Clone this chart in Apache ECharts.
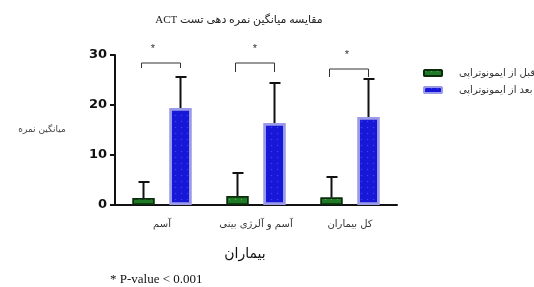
<!DOCTYPE html>
<html>
<head>
<meta charset="utf-8">
<script src="https://cdn.jsdelivr.net/npm/echarts@6/dist/echarts.min.js"></script>
<style>
  html, body { margin: 0; padding: 0; background: #fff; }
  #main { width: 534px; height: 287px; }
</style>
</head>
<body>
<div id="main"></div>
<script>
// گروه‌ها و داده‌ها
const categories = ['آسم', 'آسم و آلرژی بینی', 'کل بیماران'];
const seriesNames = ['قبل از ایمونوتراپی', 'بعد از ایمونوتراپی'];
const beforeMean = [1.4, 1.8, 1.5];
const beforeUpper = [4.6, 6.4, 5.6];
const afterMean = [19.4, 16.4, 17.6];
const afterUpper = [25.6, 24.4, 25.2];
// ارتفاع کروشه‌های معنی‌داری
const bracketTop = [28.4, 28.4, 27.2];
const bracketLeg = [27.4, 26.6, 25.6];
const yTicks = [0, 10, 20, 30];

const barW = 22, gapPx = 15;
const off = (barW + gapPx) / 2;
const starDx = [-9, -1, -3];

function errData(mean, upper) {
  return mean.map((m, i) => [i, m, upper[i]]);
}

function errRender(dx) {
  return function (params, api) {
    const b = api.coord([api.value(0), api.value(1)]);
    const t = api.coord([api.value(0), api.value(2)]);
    const x = b[0] + dx;
    const st = { stroke: '#111', lineWidth: 2 };
    return {
      type: 'group',
      children: [
        { type: 'line', shape: { x1: x, y1: b[1], x2: x, y2: t[1] }, style: st },
        { type: 'line', shape: { x1: x - 5, y1: t[1], x2: x + 6, y2: t[1] }, style: st }
      ]
    };
  };
}

const chart = echarts.init(document.getElementById('main'));
chart.setOption({
  animation: false,
  textStyle: { fontFamily: 'DejaVu Sans' },
  title: {
    text: '\u202Bمقایسه میانگین نمره دهی تست ACT\u202C',
    left: 234, top: 10, textAlign: 'center',
    textStyle: { fontSize: 11, fontWeight: 'normal', color: '#222', fontFamily: 'Liberation Serif, DejaVu Sans' }
  },
  legend: {
    orient: 'vertical', left: 418, top: 63,
    itemWidth: 18, itemHeight: 6, itemGap: 7,
    textStyle: { fontSize: 10, color: '#333', padding: [0, 0, 0, 12] },
    data: seriesNames
  },
  grid: { left: 115, right: 137, top: 55, bottom: 82, outerBoundsMode: 'none' },
  xAxis: {
    type: 'category', data: categories,
    name: 'بیماران', nameLocation: 'middle', nameGap: 42,
    nameTextStyle: { fontSize: 14, color: '#111', fontFamily: 'Liberation Serif, DejaVu Sans', padding: [0, 22, 0, 0] },
    axisLine: { lineStyle: { color: '#111', width: 2 } },
    axisTick: { alignWithLabel: true, length: 3, lineStyle: { width: 2, color: '#111' } },
    axisLabel: { fontSize: 10, color: '#333', margin: 14, interval: 0 }
  },
  yAxis: {
    type: 'value', min: 0, max: 30, interval: 10,
    name: 'میانگین نمره', nameLocation: 'middle', nameRotate: 0, nameGap: 73,
    nameTextStyle: { fontSize: 9, color: '#444', align: 'center', padding: [6, 0, 0, 0] },
    axisLine: { show: true, lineStyle: { color: '#111', width: 2 } },
    axisTick: { show: true, length: 5, lineStyle: { width: 2, color: '#111' } },
    axisLabel: { fontSize: 13, fontWeight: 'bold', color: '#111', margin: 8,
      formatter: v => yTicks.includes(v) ? String(v) : '' },
    splitLine: { show: false }
  },
  series: [
    {
      name: seriesNames[0], type: 'bar', data: beforeMean,
      barWidth: barW, barGap: (gapPx / barW * 100) + '%',
      itemStyle: { color: '#1e7a24', borderColor: '#0b2d0d', borderWidth: 1.5,
        decal: { symbol: 'circle', symbolSize: 0.5, dashArrayX: 3, dashArrayY: 3, color: 'rgba(120,200,120,0.55)' } },
      z: 2
    },
    {
      name: seriesNames[1], type: 'bar', data: afterMean,
      barWidth: barW,
      itemStyle: { color: '#1717d8', borderColor: '#9a9ae8', borderWidth: 2.5,
        decal: { symbol: 'circle', symbolSize: 0.5, dashArrayX: 3, dashArrayY: 3, color: 'rgba(90,90,255,0.6)' } },
      z: 2
    },
    {
      type: 'custom', data: errData(beforeMean, beforeUpper),
      renderItem: errRender(-off), z: 3, silent: true
    },
    {
      type: 'custom', data: errData(afterMean, afterUpper),
      renderItem: errRender(off), z: 3, silent: true
    },
    {
      type: 'custom', silent: true, z: 3,
      data: bracketTop.map((t, i) => [i, t, bracketLeg[i]]),
      renderItem: function (params, api) {
        const t = api.coord([api.value(0), api.value(1)]);
        const l = api.coord([api.value(0), api.value(2)]);
        const x1 = t[0] - off - 2, x2 = t[0] + off;
        const sx = t[0] + starDx[params.dataIndex];
        return {
          type: 'group',
          children: [
            { type: 'polyline', shape: { points: [[x1, l[1]], [x1, t[1]], [x2, t[1]], [x2, l[1]]] },
              style: { stroke: '#333', lineWidth: 1, fill: null } },
            { type: 'text', style: { text: '*', x: sx, y: t[1] - 14, fontSize: 11,
              fill: '#333', align: 'center', verticalAlign: 'middle' } }
          ]
        };
      }
    }
  ],
  graphic: [
    { type: 'text', left: 110, top: 273,
      style: { text: '* P-value < 0.001', fontSize: 13, fill: '#111', fontFamily: 'Liberation Serif' } }
  ]
});
</script>
</body>
</html>
